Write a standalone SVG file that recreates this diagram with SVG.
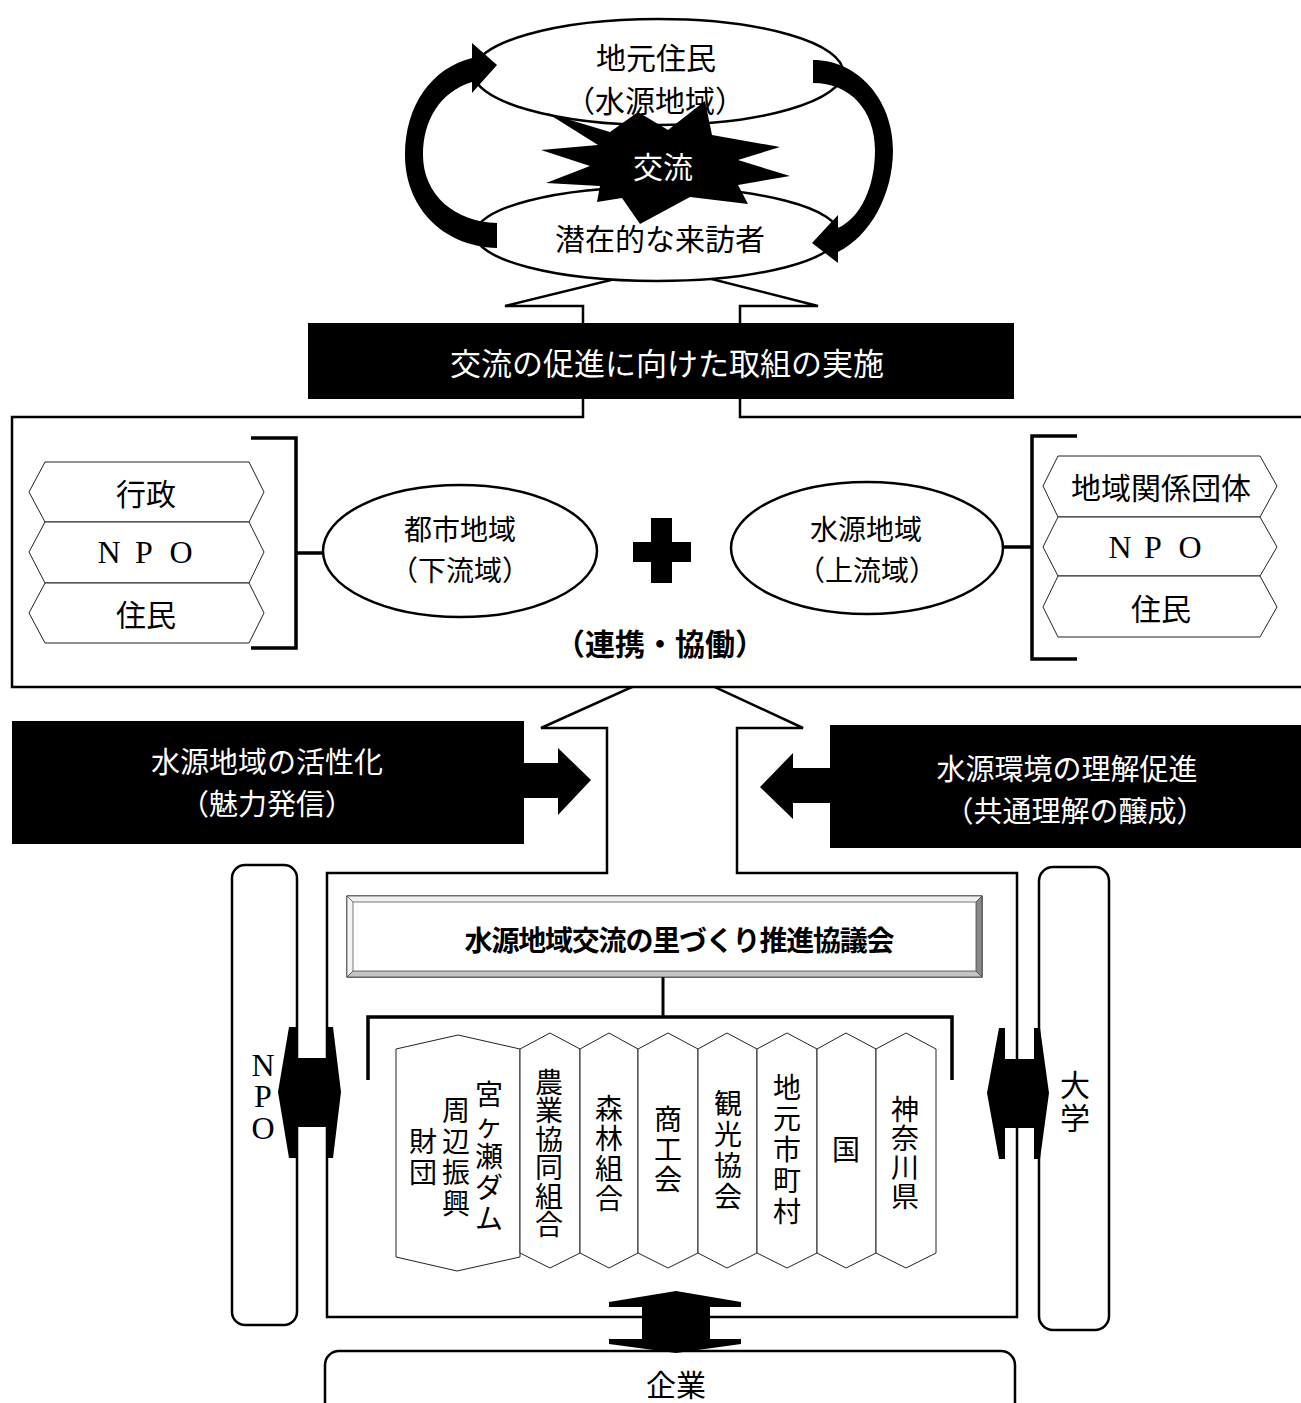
<svg xmlns="http://www.w3.org/2000/svg" width="1301" height="1403" viewBox="0 0 1301 1403">
<style>
.ln{fill:none;stroke:#000;stroke-width:2.5}
.wf{fill:#fff;stroke:#000;stroke-width:2.5}
.thin{fill:#fff;stroke:#222;stroke-width:1}
.blk{fill:#000;stroke:none}
.t{font-family:"Noto Sans CJK JP","Noto Sans CJK SC",sans-serif;font-size:30px;fill:#000;text-anchor:middle;dominant-baseline:central}
.w{fill:#fff}
.b{font-weight:bold}
.s{font-family:"Liberation Serif","Noto Sans CJK JP",serif;font-size:32px;fill:#000;text-anchor:middle;dominant-baseline:central}
.c{font-size:28px}
.e{font-size:28px}
.m{font-size:29px}
</style>
<rect width="1301" height="1403" fill="#fff"/>

<g id="council-frame">
<path class="wf" d="M327,873 L607,873 L607,728 L541,728 L674,668 L803,728 L737,728 L737,873 L1017,873 L1017,1317 L327,1317 Z"/>
</g>

<g id="collab-box">
<path class="wf" d="M12,417 L583,417 L583,306 L505,306 L664,267 L818,306 L740,306 L740,417 L1305,417 L1305,687 L12,687 Z"/>
</g>

<g id="local-residents">
<ellipse class="wf" cx="658" cy="72" rx="185" ry="53"/>
<text class="t" x="656" y="56">地元住民</text>
<text class="t" x="655" y="99">（水源地域）</text>
</g>
<g id="visitors">
<ellipse class="wf" cx="657" cy="234" rx="182" ry="47"/>
<text class="t" x="660" y="237">潜在的な来訪者</text>
</g>
<g id="exchange">
<polygon class="blk" points="547,113 610,132 638,112 668,130 705,101 712,135 780,147 738,160 790,176 738,185 748,204 690,197 640,224 622,198 597,202 600,186 546,183 590,166 541,150 598,145"/>
<text class="t w" x="663" y="165">交流</text>
</g>

<g id="connectors">
<path class="blk" d="M497,248 C440,246 405,205 405,155 C405,105 432,68 472,58 L472,43 L497,65 L472,93 L472,82 C440,92 423,120 423,155 C423,195 455,222 497,223 Z"/>
<path class="blk" d="M813,60 C858,60 893,100 893,150 C893,195 870,236 838,252 L838,263 L812,243 L838,215 L838,228 C860,218 875,188 875,150 C875,110 850,83 813,83 Z"/>
<path class="ln" d="M251,438 L296,438 L296,648 L251,648 M296,553 L323,553" style="stroke-width:3.5"/>
<path class="ln" d="M1077,436 L1032,436 L1032,659 L1077,659 M1032,547 L1003,547" style="stroke-width:3.5"/>
<polygon class="blk" points="524,763 558,763 558,748 591,780 558,815 558,798 524,798"/>
<polygon class="blk" points="830,768 793,768 793,753 760,787 793,819 793,803 830,803"/>
<path class="ln" d="M663,977 L663,1017" style="stroke-width:3"/>
<path class="ln" d="M368,1080 L368,1017 L952,1017 L952,1080" style="stroke-width:3.5"/>
</g>

<g id="implementation">
<rect class="blk" x="308" y="323" width="706" height="76"/>
<text class="t w" x="667" y="361" style="font-size:31px">交流の促進に向けた取組の実施</text>
</g>

<g id="left-group">
<polygon class="thin" points="45,462 249,462 264,492 249,522 45,522 29,492"/>
<polygon class="thin" points="45,522 249,522 264,552 249,583 45,583 29,552"/>
<polygon class="thin" points="45,583 249,583 264,613 249,643 45,643 29,613"/>
<text class="t" x="146" y="492">行政</text>
<text class="s" x="109 144 181" y="552">NPO</text>
<text class="t" x="146" y="613">住民</text>
</g>
<g id="urban">
<ellipse class="wf" cx="460" cy="551" rx="137" ry="66"/>
<text class="t e" x="460" y="528">都市地域</text>
<text class="t e" x="460" y="569">（下流域）</text>
</g>
<g id="plus">
<rect class="blk" x="651" y="518" width="21" height="65"/>
<rect class="blk" x="633" y="542" width="58" height="20"/>
<text class="t b" x="660" y="642">（連携・協働）</text>
</g>
<g id="source">
<ellipse class="wf" cx="867" cy="548" rx="136" ry="66"/>
<text class="t e" x="866" y="528">水源地域</text>
<text class="t e" x="867" y="569">（上流域）</text>
</g>
<g id="right-group">
<polygon class="thin" points="1058,456 1260,456 1277,486 1260,517 1058,517 1043,486"/>
<polygon class="thin" points="1058,517 1260,517 1277,547 1260,576 1058,576 1043,547"/>
<polygon class="thin" points="1058,576 1260,576 1277,607 1260,637 1058,637 1043,607"/>
<text class="t" x="1161" y="486">地域関係団体</text>
<text class="s" x="1120 1153 1190" y="547">NPO</text>
<text class="t" x="1161" y="607">住民</text>
</g>

<g id="revitalize">
<rect class="blk" x="12" y="721" width="512" height="123"/>
<text class="t w m" x="267" y="760">水源地域の活性化</text>
<text class="t w m" x="267" y="802">（魅力発信）</text>
</g>
<g id="understanding">
<rect class="blk" x="830" y="725" width="475" height="123"/>
<text class="t w m" x="1067" y="767">水源環境の理解促進</text>
<text class="t w m" x="1075" y="809">（共通理解の醸成）</text>
</g>

<g id="npo">
<rect class="wf" x="232" y="865" width="65" height="460" rx="13"/>
<text class="s" x="263 263 263" y="1065 1096 1128">NPO</text>
</g>
<g id="university">
<rect class="wf" x="1039" y="867" width="70" height="463" rx="14"/>
<text class="t" x="1075 1075" y="1083 1116">大学</text>
</g>
<g id="arrows-side">
<polygon class="blk" points="289,1027 296,1027 296,1058 327,1058 327,1027 333,1027 341,1092 333,1158 327,1158 327,1127 296,1127 296,1158 289,1158 278,1092"/>
<polygon class="blk" points="999,1028 1005,1028 1005,1059 1034,1059 1034,1028 1040,1028 1049,1093 1040,1159 1034,1159 1034,1128 1005,1128 1005,1159 999,1159 987,1093"/>
</g>

<g id="council">
<rect x="347" y="896" width="635" height="81" fill="#fff" stroke="#000" stroke-width="1"/>
<polygon points="347,896 982,896 976,902 353,902" fill="#f0f0f0" stroke="#555" stroke-width="0.8"/>
<polygon points="347,896 353,902 353,971 347,977" fill="#f4f4f4" stroke="#555" stroke-width="0.8"/>
<polygon points="982,896 982,977 976,971 976,902" fill="#888" stroke="#444" stroke-width="0.8"/>
<polygon points="347,977 982,977 976,971 353,971" fill="#c4c4c4" stroke="#444" stroke-width="0.8"/>
<text class="t b" x="679" y="939" style="font-size:28px;letter-spacing:-1.2px">水源地域交流の里づくり推進協議会</text>
</g>

<g id="members">
<polygon class="thin" points="396,1049 458,1035 520,1049 520,1257 457,1271 396,1257"/>
<polygon class="thin" points="520,1049 550,1033 580,1049 580,1253 550,1268 520,1253"/>
<polygon class="thin" points="580,1049 609,1033 638,1049 638,1253 609,1268 580,1253"/>
<polygon class="thin" points="638,1049 668,1033 698,1049 698,1253 668,1268 638,1253"/>
<polygon class="thin" points="698,1049 727,1033 757,1049 757,1253 727,1268 698,1253"/>
<polygon class="thin" points="757,1049 787,1033 817,1049 817,1253 787,1268 757,1253"/>
<polygon class="thin" points="817,1049 846,1033 876,1049 876,1253 846,1268 817,1253"/>
<polygon class="thin" points="876,1049 906,1033 936,1049 936,1253 906,1268 876,1253"/>
<text class="t c" x="489 489 489 489 489" y="1093 1124 1155 1186 1217">宮ヶ瀬ダム</text>
<text class="t c" x="456 456 456 456" y="1108.5 1139.5 1170.5 1201.5">周辺振興</text>
<text class="t c" x="423 423" y="1139.5 1170.5">財団</text>
<text class="t c" x="549 549 549 549 549 549" y="1081 1109 1138 1166 1195 1223">農業協同組合</text>
<text class="t c" x="609 609 609 609" y="1107 1137 1167 1197">森林組合</text>
<text class="t c" x="668 668 668" y="1118 1148 1178">商工会</text>
<text class="t c" x="728 728 728 728" y="1101.5 1132.5 1163.5 1194.5">観光協会</text>
<text class="t c" x="787 787 787 787 787" y="1086 1117 1148 1179 1210">地元市町村</text>
<text class="t c" x="846" y="1148">国</text>
<text class="t c" x="905 905 905 905" y="1107.5 1136.5 1165.5 1194.5">神奈川県</text>
</g>

<g id="company">
<rect class="wf" x="325" y="1351" width="690" height="80" rx="14"/>
<text class="t" x="676" y="1383">企業</text>
</g>
<g id="arrow-company">
<polygon class="blk" points="676,1291 741,1302 741,1307 710,1307 710,1339 741,1339 741,1344 676,1353 609,1344 609,1339 642,1339 642,1307 609,1307 609,1302"/>
</g>
</svg>
